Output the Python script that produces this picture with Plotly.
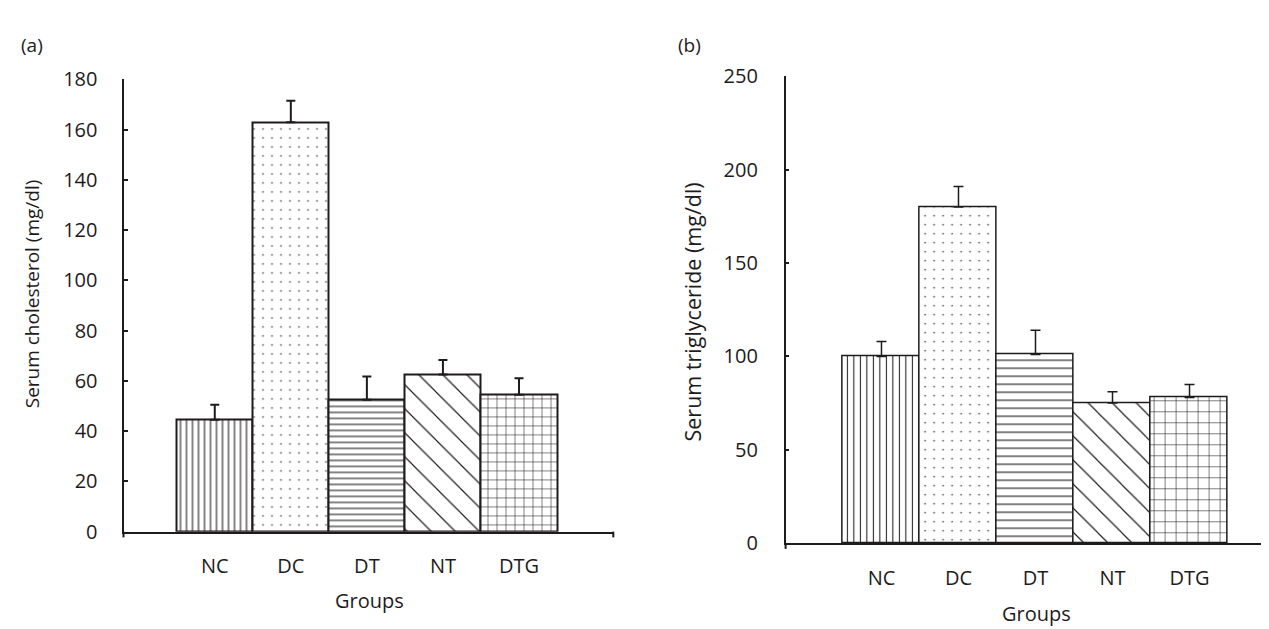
import plotly.graph_objects as go

W, H = 1269, 629

groups = ["NC", "DC", "DT", "NT", "DTG"]
cholesterol = [44.5, 163.0, 52.5, 62.5, 54.5]
cholesterol_err = [6.0, 8.5, 9.3, 5.8, 6.6]
triglyceride = [100.0, 180.0, 101.0, 75.0, 78.0]
triglyceride_err = [8.0, 11.0, 13.0, 6.0, 7.0]
chol_ticks = [0, 20, 40, 60, 80, 100, 120, 140, 160, 180]
trig_ticks = [0, 50, 100, 150, 200, 250]

FONT = "Open Sans"
TXT = "#1e1b1c"
LINE = "#1e1b1c"

pos = list(range(len(groups)))

left_patterns = [
    dict(shape="|", size=6, solidity=0.18),
    dict(shape=".", size=9, solidity=0.025),
    dict(shape="-", size=6, solidity=0.18),
    dict(shape="\\", size=17, solidity=0.07),
    dict(shape="+", size=9, solidity=0.12),
]
right_patterns = [
    dict(shape="|", size=6.5, solidity=0.16),
    dict(shape=".", size=9, solidity=0.025),
    dict(shape="-", size=8, solidity=0.14),
    dict(shape="\\", size=17, solidity=0.07),
    dict(shape="+", size=11, solidity=0.1),
]

fig = go.Figure()

for i, g in enumerate(groups):
    p = dict(left_patterns[i], fgcolor=LINE, bgcolor="white", fillmode="replace")
    fig.add_trace(go.Bar(
        x=[pos[i]], y=[cholesterol[i]], width=1.0,
        marker=dict(color="white", pattern=p, line=dict(color=LINE, width=2)),
        error_y=dict(type="data", symmetric=False, array=[cholesterol_err[i]],
                     arrayminus=[0], color=LINE, thickness=2, width=4.5),
        xaxis="x", yaxis="y", showlegend=False, name=g,
    ))
for i, g in enumerate(groups):
    p = dict(right_patterns[i], fgcolor=LINE, bgcolor="white", fillmode="replace")
    fig.add_trace(go.Bar(
        x=[pos[i]], y=[triglyceride[i]], width=1.0,
        marker=dict(color="white", pattern=p, line=dict(color=LINE, width=1.5)),
        error_y=dict(type="data", symmetric=False, array=[triglyceride_err[i]],
                     arrayminus=[0], color=LINE, thickness=1.5, width=5),
        xaxis="x2", yaxis="y2", showlegend=False, name=g,
    ))

axfont = dict(family=FONT, size=20, color=TXT)

fig.update_layout(
    width=W, height=H,
    margin=dict(l=0, r=0, t=0, b=0),
    paper_bgcolor="white", plot_bgcolor="white",
    barmode="overlay", bargap=0,
    font=axfont,
    xaxis=dict(domain=[115.5 / W, 605.3 / W], range=[-1.2, 5.24],
               tickvals=pos, ticktext=groups, ticks="", showgrid=False,
               zeroline=False, showline=True, linecolor=LINE, linewidth=2,
               tickfont=axfont, ticklabelstandoff=15, anchor="y"),
    yaxis=dict(domain=[(H - 532.5) / H, (H - 60) / H], range=[0, 180],
               tickvals=chol_ticks, ticks="inside", ticklen=4, tickwidth=2,
               tickcolor=LINE, showgrid=False, zeroline=False, showline=True,
               linecolor=LINE, linewidth=2, tickfont=axfont,
               ticklabelstandoff=20, anchor="x"),
    xaxis2=dict(domain=[777.6 / W, 1.0], range=[-1.245, 5.136],
                tickvals=pos, ticktext=groups, ticks="", showgrid=False,
                zeroline=False, showline=True, linecolor=LINE, linewidth=2,
                tickfont=axfont, ticklabelstandoff=16, anchor="y2"),
    yaxis2=dict(domain=[(H - 544.5) / H, (H - 56.7) / H], range=[0, 250],
                tickvals=trig_ticks, ticks="inside", ticklen=4, tickwidth=1.5,
                tickcolor=LINE, showgrid=False, zeroline=False, showline=True,
                linecolor=LINE, linewidth=1.5, tickfont=axfont,
                ticklabelstandoff=22, anchor="x2"),
)

# end ticks on the category axes
tick_h = 6 / H
for xd, xr, ybase in [(0, "x domain", (H - 532.5) / H), (1, "x domain", (H - 532.5) / H),
                      (0, "x2 domain", (H - 544.5) / H)]:
    fig.add_shape(type="line", xref=xr, yref="paper", x0=xd, x1=xd,
                  y0=ybase, y1=ybase - tick_h, line=dict(color=LINE, width=2))

ann = [
    dict(text="(a)", x=24 / W, y=(H - 24) / H, size=19, angle=0),
    dict(text="(b)", x=681 / W, y=(H - 24) / H, size=19, angle=0),
    dict(text="Serum cholesterol (mg/dl)", x=24 / W, y=(H - 284.5) / H, size=19, angle=-90),
    dict(text="Serum triglyceride (mg/dl)", x=684.5 / W, y=(H - 303) / H, size=21.5, angle=-90),
    dict(text="Groups", x=361 / W, y=(H - 604) / H, size=20, angle=0),
    dict(text="Groups", x=1028 / W, y=(H - 618) / H, size=20, angle=0),
]
for a in ann:
    fig.add_annotation(text=a["text"], x=a["x"], y=a["y"], xref="paper", yref="paper",
                       xanchor="center", yanchor="middle", showarrow=False,
                       textangle=a["angle"], font=dict(family=FONT, size=a["size"], color=TXT))

fig.write_html("out.html")
